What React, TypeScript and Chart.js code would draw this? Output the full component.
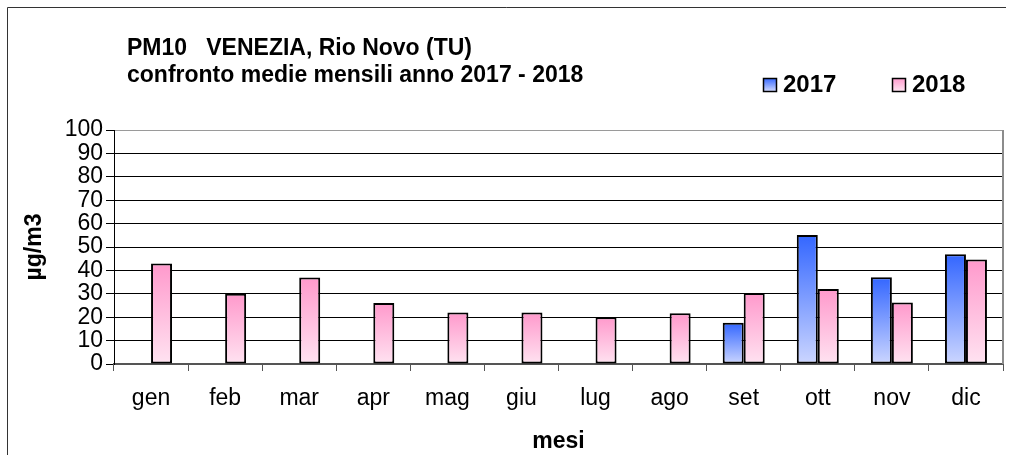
import React, { useEffect, useRef } from 'react';
import { Chart, registerables } from 'chart.js';

Chart.register(...registerables);

// ---- data ----
const months = ['gen', 'feb', 'mar', 'apr', 'mag', 'giu', 'lug', 'ago', 'set', 'ott', 'nov', 'dic'];
const pm2017: (number | null)[] = [null, null, null, null, null, null, null, null, 17.6, 55.1, 37.1, 46.9];
const pm2018: (number | null)[] = [42.9, 30, 37, 26.1, 22, 22, 20, 21.7, 30.3, 32, 26.3, 44.7];
const seriesLabels = ['2017', '2018'];
const titleLines = ['PM10   VENEZIA, Rio Novo (TU)', 'confronto medie mensili anno 2017 - 2018'];
const yAxisTitle = 'µg/m3';
const xAxisTitle = 'mesi';
const yMin = 0;
const yMax = 100;
const yStep = 10;

// ---- styles ----
const FONT = "'Liberation Sans', Arial, Helvetica, sans-serif";
const BLUE_TOP = '#3366ff';
const BLUE_BOTTOM = '#ccd6ff';
const PINK_TOP = '#ff99cc';
const PINK_BOTTOM = '#ffe3f1';

function barGradient(top: string, bottom: string) {
  return (ctx: any) => {
    const chart = ctx.chart;
    const y = chart.scales && chart.scales.y;
    const v = ctx.raw;
    if (!y || v == null || !isFinite(y.getPixelForValue(v))) return top;
    const py = y.getPixelForValue(v);
    const pb = y.getPixelForValue(0);
    if (Math.abs(pb - py) < 1) return top;
    const g = chart.ctx.createLinearGradient(0, py, 0, pb);
    g.addColorStop(0, top);
    g.addColorStop(1, bottom);
    return g;
  };
}

const decorPlugin = {
  id: 'decor',
  beforeDatasetsDraw(chart: any) {
    const { ctx, chartArea } = chart;
    ctx.save();
    // plot area right border (grey)
    ctx.strokeStyle = '#8c8c8c';
    ctx.lineWidth = 2;
    ctx.beginPath();
    ctx.moveTo(chartArea.right, chartArea.top);
    ctx.lineTo(chartArea.right, chartArea.bottom);
    ctx.stroke();
    ctx.restore();
  },
  afterDraw(chart: any) {
    const { ctx } = chart;
    ctx.save();
    // outer frame
    ctx.strokeStyle = '#333';
    ctx.lineWidth = 1;
    ctx.beginPath();
    ctx.moveTo(7.5, chart.height);
    ctx.lineTo(7.5, 7.5);
    ctx.lineTo(1006, 7.5);
    ctx.stroke();

    // title
    ctx.fillStyle = '#000';
    ctx.font = `bold 23px ${FONT}`;
    ctx.textAlign = 'left';
    ctx.textBaseline = 'alphabetic';
    ctx.fillText(titleLines[0], 127, 55);
    ctx.fillText(titleLines[1], 127, 82);

    // legend
    ctx.font = `bold 24px ${FONT}`;
    const items = [
      { label: seriesLabels[0], x: 763, top: BLUE_TOP, bottom: BLUE_BOTTOM },
      { label: seriesLabels[1], x: 892, top: PINK_TOP, bottom: PINK_BOTTOM },
    ];
    const boxY = 78;
    const boxS = 13;
    for (const it of items) {
      const g = ctx.createLinearGradient(0, boxY, 0, boxY + boxS);
      g.addColorStop(0, it.top);
      g.addColorStop(1, it.bottom);
      ctx.fillStyle = g;
      ctx.fillRect(it.x, boxY, boxS, boxS);
      ctx.strokeStyle = '#000';
      ctx.lineWidth = 1.5;
      ctx.strokeRect(it.x + 0.5, boxY + 0.5, boxS, boxS);
      ctx.fillStyle = '#000';
      ctx.fillText(it.label, it.x + 20, 92);
    }
    ctx.restore();
  },
};

export default function App() {
  const ref = useRef<HTMLCanvasElement | null>(null);

  useEffect(() => {
    if (!ref.current) return;
    const chart = new Chart(ref.current, {
      type: 'bar',
      data: {
        labels: months,
        datasets: [
          {
            label: seriesLabels[0],
            data: pm2017,
            backgroundColor: barGradient(BLUE_TOP, BLUE_BOTTOM) as any,
            borderColor: '#000',
            borderWidth: 2,
            borderSkipped: false,
          },
          {
            label: seriesLabels[1],
            data: pm2018,
            backgroundColor: barGradient(PINK_TOP, PINK_BOTTOM) as any,
            borderColor: '#000',
            borderWidth: 2,
            borderSkipped: false,
          },
        ],
      },
      options: {
        animation: false,
        responsive: true,
        maintainAspectRatio: false,
        layout: { padding: { top: 130, right: 11, left: 0, bottom: 0 } },
        datasets: { bar: { categoryPercentage: 0.567, barPercentage: 1 } } as any,
        plugins: {
          legend: { display: false },
          title: { display: false },
          tooltip: { enabled: false },
        },
        scales: {
          x: {
            grid: {
              offset: true,
              drawOnChartArea: false,
              drawTicks: true,
              tickLength: 7,
              color: '#555',
              lineWidth: 1,
            },
            border: { color: '#555', width: 2 },
            ticks: { color: '#000', font: { family: FONT, size: 23 }, padding: 14, maxRotation: 0, autoSkip: false },
            title: {
              display: true,
              text: xAxisTitle,
              color: '#000',
              font: { family: FONT, size: 23, weight: 'bold' },
              padding: { top: 0, bottom: 0 },
            },
            afterFit: (s: any) => {
              s.height = 91;
            },
          },
          y: {
            min: yMin,
            max: yMax,
            ticks: { stepSize: yStep, autoSkip: false, color: '#000', font: { family: FONT, size: 23 }, padding: 3 },
            grid: {
              color: (c: any) => (c.tick && c.tick.value === yMax ? '#9a9a9a' : '#000'),
              tickColor: '#000',
              tickLength: 8,
              lineWidth: 1,
            },
            border: { color: '#000', width: 1 },
            title: {
              display: true,
              text: yAxisTitle,
              color: '#000',
              font: { family: FONT, size: 23, weight: 'bold' },
              padding: { top: 21, bottom: 0 },
            },
            afterFit: (s: any) => {
              s.width = 114;
            },
          },
        },
      },
      plugins: [decorPlugin],
    });
    return () => chart.destroy();
  }, []);

  return (
    <div style={{ position: 'fixed', left: 0, top: 0, width: '1014px', height: '455px', background: '#fff' }}>
      <canvas ref={ref} />
    </div>
  );
}
